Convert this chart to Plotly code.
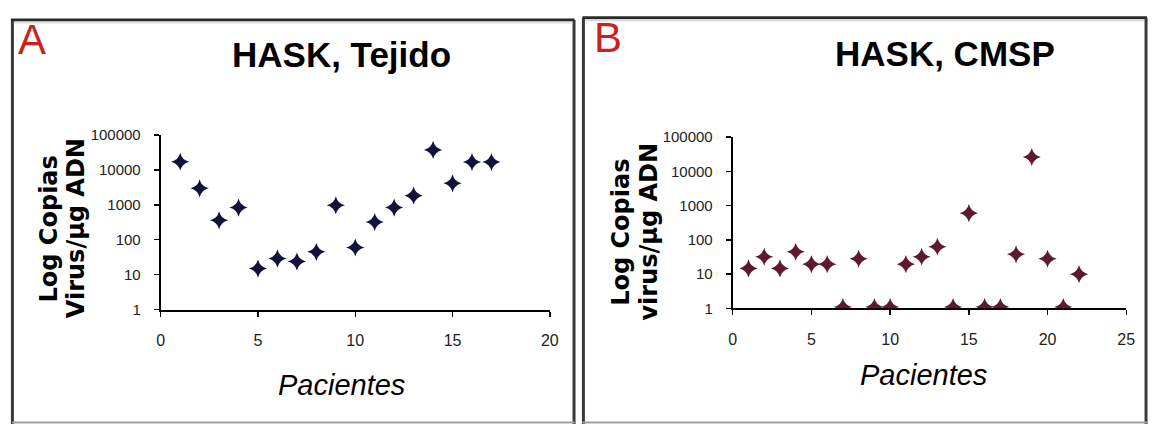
import plotly.graph_objects as go

W, H = 1158, 432

# ---- data ----
pacientes_a = list(range(1, 18))
copias_a = [17000, 2950, 360, 830, 15, 29, 24, 45, 970, 60, 320, 830, 1820, 37000, 4100, 16600, 16600]

pacientes_b = list(range(1, 23))
copias_b = [14.7, 32, 14.7, 45, 19.5, 19.5, 1.1, 28, 1.1, 1.1, 19.5, 32, 63, 1.1, 600, 1.1, 1.1, 38, 26000, 28, 1.1, 10]

y_tickvals = [1, 10, 100, 1000, 10000, 100000]
y_ticktext = ["1", "10", "100", "1000", "10000", "100000"]
x_ticks_a = [0, 5, 10, 15, 20]
x_ticks_b = [0, 5, 10, 15, 20, 25]

def px(x):
    return x / W

def py(y):
    return 1 - y / H

fig = go.Figure()
fig.add_trace(go.Scatter(x=pacientes_a, y=copias_a, mode="markers", xaxis="x", yaxis="y",
                         marker=dict(symbol="star-diamond", size=13, color="#12123a"),
                         showlegend=False))
fig.add_trace(go.Scatter(x=pacientes_b, y=copias_b, mode="markers", xaxis="x2", yaxis="y2",
                         marker=dict(symbol="star-diamond", size=13, color="#5e1832"),
                         showlegend=False))

tickfont = dict(family="Liberation Sans, Arial", size=15, color="#222")
common_x = dict(showline=True, linecolor="black", linewidth=2, ticks="outside", ticklen=5,
                tickwidth=1.5, tickcolor="black", showgrid=False, zeroline=False,
                tickfont=dict(tickfont, size=16), ticklabelstandoff=10, fixedrange=True)
common_y = dict(type="log", range=[0, 5], showline=True, linecolor="black", linewidth=2,
                ticks="outside", ticklen=5, tickwidth=1.5, tickcolor="black", showgrid=False,
                zeroline=False, tickvals=y_tickvals, ticktext=y_ticktext, tickfont=tickfont,
                ticklabelstandoff=10, fixedrange=True)

fig.update_layout(
    width=W, height=H, margin=dict(l=0, r=0, t=0, b=0),
    paper_bgcolor="white", plot_bgcolor="white", hovermode=False,
    xaxis=dict(domain=[px(158.5), px(552)], range=[0, 20], tickvals=x_ticks_a, anchor="y", **common_x),
    yaxis=dict(domain=[py(313), py(131)], anchor="x", **common_y),
    xaxis2=dict(domain=[px(737), px(1135)], range=[0, 25], tickvals=x_ticks_b, anchor="y2", **common_x),
    yaxis2=dict(domain=[py(311.7), py(133.3)], anchor="x2", **common_y),
)

title_font = dict(family="Liberation Sans, Arial", size=35, color="black")
letter_font = dict(family="Liberation Sans, Arial", size=42, color="#cc1f1f")
xlab_font = dict(family="Liberation Sans, Arial", size=29, color="black")
ylab_font = dict(family="DejaVu Sans, Liberation Sans, Arial", size=24, color="black")

ann = []
def add_text(x, y, text, font, angle=0):
    ann.append(dict(x=px(x), y=py(y), xref="paper", yref="paper", text=text, showarrow=False,
                    xanchor="center", yanchor="middle", font=font, textangle=angle))

add_text(341.5, 47, "<b>HASK, Tejido</b>", title_font)
add_text(951.5, 46.5, "<b>HASK, CMSP</b>", title_font)
add_text(28.5, 31.5, "A", letter_font)
add_text(610.5, 30, "B", letter_font)
add_text(341.7, 391, "<i>Pacientes</i>", xlab_font)
add_text(930, 381.5, "<i>Pacientes</i>", xlab_font)
add_text(46, 229, "<b>Log Copias</b>", ylab_font, -90)
add_text(73, 228, "<b>Virus/µg ADN</b>", ylab_font, -90)
add_text(624, 232, "<b>Log Copias</b>", ylab_font, -90)
add_text(652, 232, "<b>virus/µg ADN</b>", ylab_font, -90)
fig.update_layout(annotations=ann)

shapes = []
def line(x0, y0, x1, y1, color, width):
    shapes.append(dict(type="line", xref="paper", yref="paper", x0=px(x0), y0=py(y0), x1=px(x1), y1=py(y1),
                       line=dict(color=color, width=width)))

# panel A frame
line(8.5, 11.5, 8.5, 432, "#3a3a3a", 3)
line(7, 11.5, 577, 11.5, "#2a2a2a", 3)
line(576.5, 11.5, 576.5, 432, "#3a3a3a", 3)
line(10, 14, 575, 14, "#dddddd", 2)
line(8, 430.5, 577, 430.5, "#a0a0a0", 2)
# panel B frame
line(586, 9, 586, 432, "#3a3a3a", 3)
line(585, 9, 1156, 9, "#2a2a2a", 3)
line(1155, 9, 1155, 432, "#3a3a3a", 3)
line(588, 12, 1153, 12, "#dddddd", 2)
line(585, 430.5, 1156, 430.5, "#a0a0a0", 2)
fig.update_layout(shapes=shapes)

fig.write_html("out.html", config={"displayModeBar": False, "staticPlot": True},
               post_script="document.body.style.margin='0';document.body.style.overflow='hidden';")
